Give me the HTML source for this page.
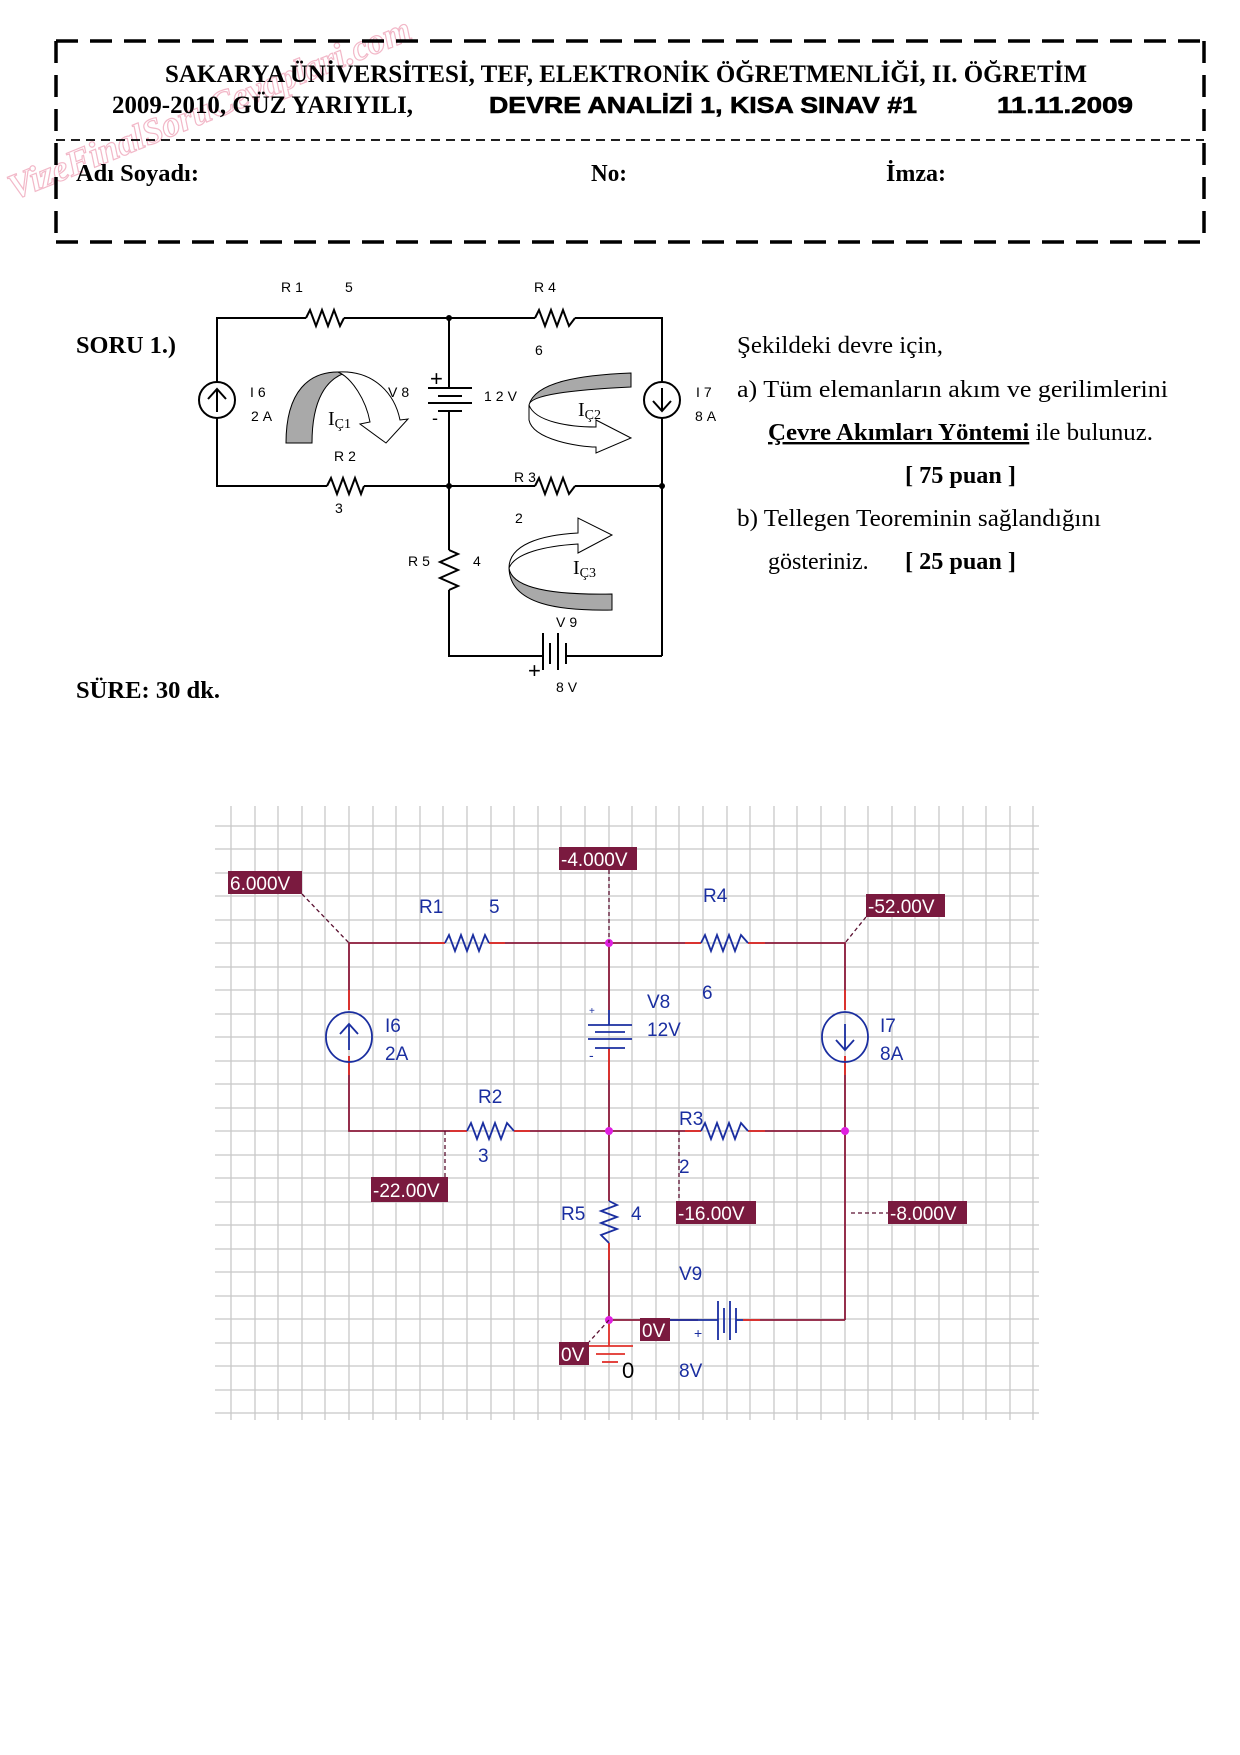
<!DOCTYPE html>
<html><head><meta charset="utf-8"><style>
html,body{margin:0;padding:0;background:#fff;}
svg{display:block;}
</style></head><body>
<svg width="1240" height="1755" viewBox="0 0 1240 1755" xmlns="http://www.w3.org/2000/svg">
<rect width="1240" height="1755" fill="#fff"/>
<!-- watermark -->
<text x="0" y="0" transform="translate(14,200) rotate(-22)" font-family="Liberation Serif, serif" font-size="36" font-weight="bold" font-style="italic" fill="none" stroke="#f2b8c8" stroke-width="1.2">VizeFinalSoruCevaplari.com</text>
<!-- header box -->
<g stroke="#000" stroke-width="3.5" stroke-dasharray="22,12" fill="none">
<line x1="56" y1="41" x2="1204" y2="41"/>
<line x1="56" y1="242" x2="1204" y2="242"/>
<line x1="56" y1="41" x2="56" y2="242"/>
<line x1="1204" y1="41" x2="1204" y2="242"/>
</g>
<line x1="56" y1="140" x2="1204" y2="140" stroke="#000" stroke-width="1.8" stroke-dasharray="9,6"/>
<text x="165" y="82" textLength="922" lengthAdjust="spacingAndGlyphs" font-family="Liberation Serif, serif" font-weight="bold" font-size="25">SAKARYA ÜNİVERSİTESİ, TEF, ELEKTRONİK ÖĞRETMENLİĞİ, II. ÖĞRETİM</text>
<text x="112" y="113" textLength="301" lengthAdjust="spacingAndGlyphs" font-family="Liberation Serif, serif" font-weight="bold" font-size="25">2009-2010, GÜZ YARIYILI,</text>
<text x="489" y="113" textLength="428" lengthAdjust="spacingAndGlyphs" font-family="Liberation Sans, sans-serif" font-weight="700" font-size="23" stroke="#000" stroke-width="0.6">DEVRE ANALİZİ 1,  KISA SINAV #1</text>
<text x="997" y="113" textLength="136" lengthAdjust="spacingAndGlyphs" font-family="Liberation Sans, sans-serif" font-weight="700" font-size="23" stroke="#000" stroke-width="0.6">11.11.2009</text>
<g font-family="Liberation Serif, serif" font-weight="bold" font-size="24">
<text x="76" y="181" textLength="123" lengthAdjust="spacingAndGlyphs">Adı Soyadı:</text>
<text x="591" y="181" textLength="36" lengthAdjust="spacingAndGlyphs">No:</text>
<text x="886" y="181" textLength="60" lengthAdjust="spacingAndGlyphs">İmza:</text>
<text x="76" y="353" textLength="100" lengthAdjust="spacingAndGlyphs">SORU 1.)</text>
<text x="76" y="698" textLength="144" lengthAdjust="spacingAndGlyphs">SÜRE: 30 dk.</text>
</g>
<g font-family="Liberation Serif, serif" font-size="24">
<text x="737" y="353" textLength="206" lengthAdjust="spacingAndGlyphs">Şekildeki devre için,</text>
<text x="737" y="397" textLength="431" lengthAdjust="spacingAndGlyphs">a)  Tüm elemanların  akım ve gerilimlerini</text>
<text x="768" y="440" textLength="385" lengthAdjust="spacingAndGlyphs"><tspan font-weight="bold" text-decoration="underline">Çevre Akımları Yöntemi</tspan> ile bulunuz.</text>
<text x="905" y="483" textLength="111" lengthAdjust="spacingAndGlyphs" font-weight="bold">[ 75 puan ]</text>
<text x="737" y="526" textLength="364" lengthAdjust="spacingAndGlyphs">b) Tellegen Teoreminin sağlandığını</text>
<text x="768" y="569">gösteriniz.</text>
<text x="905" y="569" textLength="111" lengthAdjust="spacingAndGlyphs" font-weight="bold">[ 25 puan ]</text>
</g>

<!-- circuit 1 -->
<g stroke="#000" stroke-width="2" fill="none">
<polyline points="306,318 217,318 217,382"/>
<polyline points="217,418 217,486 327,486"/>
<line x1="344" y1="318" x2="535" y2="318"/>
<polyline points="575,318 662,318 662,382"/>
<line x1="364" y1="486" x2="535" y2="486"/>
<polyline points="575,486 662,486 662,418"/>
<line x1="662" y1="418" x2="662" y2="656"/>
<line x1="449" y1="318" x2="449" y2="388"/>
<line x1="449" y1="411" x2="449" y2="550"/>
<polyline points="449,590 449,656 543,656"/>
<line x1="566" y1="656" x2="662" y2="656"/>
<polyline points="306,318 310,310 316,326 322,310 328,326 334,310 340,326 344,318"/>
<polyline points="535,318 539,310 545,326 551,310 557,326 563,310 569,326 575,318"/>
<polyline points="327,486 331,478 337,494 343,478 349,494 355,478 361,494 364,486"/>
<polyline points="535,486 539,478 545,494 551,478 557,494 563,478 569,494 575,486"/>
<polyline points="449,550 458,554 440,562 458,570 440,578 458,586 449,590"/>
<circle cx="217" cy="400" r="18"/>
<circle cx="662" cy="400" r="18"/>
<line x1="217" y1="412" x2="217" y2="390"/><polyline points="208,399 217,389 226,399"/>
<line x1="662" y1="388" x2="662" y2="410"/><polyline points="653,401 662,411 671,401"/>
<line x1="428" y1="388" x2="472" y2="388"/><line x1="438" y1="396" x2="462" y2="396"/>
<line x1="428" y1="403" x2="472" y2="403"/><line x1="438" y1="411" x2="462" y2="411"/>
<line x1="543" y1="633" x2="543" y2="670"/><line x1="550" y1="643" x2="550" y2="664"/>
<line x1="558" y1="633" x2="558" y2="670"/><line x1="566" y1="643" x2="566" y2="664"/>
</g>
<circle cx="449" cy="318" r="3" fill="#000"/><circle cx="449" cy="486" r="3" fill="#000"/><circle cx="662" cy="486" r="3" fill="#000"/>
<g font-family="Liberation Sans, sans-serif" font-size="22" fill="#000"><text x="430" y="386">+</text><text x="432" y="424" font-size="18">-</text><text x="528" y="678">+</text></g>
<g font-family="Liberation Sans, sans-serif" font-size="14" fill="#000" letter-spacing="4">
<text x="281" y="292">R1</text><text x="345" y="292">5</text><text x="534" y="292">R4</text><text x="535" y="355">6</text>
<text x="250" y="397">I6</text><text x="251" y="421">2A</text><text x="388" y="397">V8</text><text x="484" y="401">12V</text>
<text x="696" y="397">I7</text><text x="695" y="421">8A</text><text x="334" y="461">R2</text><text x="335" y="513">3</text>
<text x="514" y="482">R3</text><text x="515" y="523">2</text><text x="408" y="566">R5</text><text x="473" y="566">4</text>
<text x="556" y="627">V9</text><text x="556" y="692">8V</text>
</g>
<!-- mesh arrows -->
<path d="M286,443 C286,390 310,372 338,372 L348,372 C326,378 312,400 312,443 Z" fill="#a9a9a9" stroke="#000" stroke-width="1"/>
<path d="M338,372 C375,370 395,395 400,420 L408,419 L386,443 L360,424 L370,422 C366,400 352,378 338,372 Z" fill="#fff" stroke="#000" stroke-width="1"/>
<text x="328" y="425" font-family="Liberation Serif, serif" font-size="20">I<tspan font-size="14" dy="3">Ç1</tspan></text>
<path d="M631,373 C580,375 535,382 529,405 C530,395 570,390 631,387 Z" fill="#a9a9a9" stroke="#000" stroke-width="1"/>
<path d="M529,405 L529,420 C533,440 580,447 596,447 L596,453 L631,438 L596,420 L596,427 C570,427 535,422 529,405 Z" fill="#fff" stroke="#000" stroke-width="1"/>
<text x="578" y="416" font-family="Liberation Serif, serif" font-size="20">I<tspan font-size="14" dy="3">Ç2</tspan></text>
<path d="M509,568 C509,545 540,535 578,533 L578,518 L612,535 L578,553 L578,544 C545,546 515,553 509,568 Z" fill="#fff" stroke="#000" stroke-width="1"/>
<path d="M509,568 C512,590 560,595 612,594 L612,610 C560,611 510,605 509,568 Z" fill="#a9a9a9" stroke="#000" stroke-width="1"/>
<text x="573" y="574" font-family="Liberation Serif, serif" font-size="20">I<tspan font-size="14" dy="3">Ç3</tspan></text>

<!-- circuit 2 grid -->
<g stroke="#c8c8c8" stroke-width="1.3">
<line x1="215" y1="826" x2="1039" y2="826"/><line x1="215" y1="849" x2="1039" y2="849"/><line x1="215" y1="873" x2="1039" y2="873"/><line x1="215" y1="896" x2="1039" y2="896"/><line x1="215" y1="920" x2="1039" y2="920"/><line x1="215" y1="943" x2="1039" y2="943"/><line x1="215" y1="967" x2="1039" y2="967"/><line x1="215" y1="990" x2="1039" y2="990"/><line x1="215" y1="1014" x2="1039" y2="1014"/><line x1="215" y1="1037" x2="1039" y2="1037"/><line x1="215" y1="1061" x2="1039" y2="1061"/><line x1="215" y1="1084" x2="1039" y2="1084"/><line x1="215" y1="1108" x2="1039" y2="1108"/><line x1="215" y1="1131" x2="1039" y2="1131"/><line x1="215" y1="1155" x2="1039" y2="1155"/><line x1="215" y1="1178" x2="1039" y2="1178"/><line x1="215" y1="1202" x2="1039" y2="1202"/><line x1="215" y1="1225" x2="1039" y2="1225"/><line x1="215" y1="1249" x2="1039" y2="1249"/><line x1="215" y1="1272" x2="1039" y2="1272"/><line x1="215" y1="1296" x2="1039" y2="1296"/><line x1="215" y1="1319" x2="1039" y2="1319"/><line x1="215" y1="1343" x2="1039" y2="1343"/><line x1="215" y1="1366" x2="1039" y2="1366"/><line x1="215" y1="1390" x2="1039" y2="1390"/><line x1="215" y1="1413" x2="1039" y2="1413"/>
<line x1="231" y1="806" x2="231" y2="1420"/><line x1="255" y1="806" x2="255" y2="1420"/><line x1="278" y1="806" x2="278" y2="1420"/><line x1="302" y1="806" x2="302" y2="1420"/><line x1="325" y1="806" x2="325" y2="1420"/><line x1="349" y1="806" x2="349" y2="1420"/><line x1="373" y1="806" x2="373" y2="1420"/><line x1="396" y1="806" x2="396" y2="1420"/><line x1="420" y1="806" x2="420" y2="1420"/><line x1="443" y1="806" x2="443" y2="1420"/><line x1="467" y1="806" x2="467" y2="1420"/><line x1="491" y1="806" x2="491" y2="1420"/><line x1="514" y1="806" x2="514" y2="1420"/><line x1="538" y1="806" x2="538" y2="1420"/><line x1="561" y1="806" x2="561" y2="1420"/><line x1="585" y1="806" x2="585" y2="1420"/><line x1="609" y1="806" x2="609" y2="1420"/><line x1="632" y1="806" x2="632" y2="1420"/><line x1="656" y1="806" x2="656" y2="1420"/><line x1="679" y1="806" x2="679" y2="1420"/><line x1="703" y1="806" x2="703" y2="1420"/><line x1="727" y1="806" x2="727" y2="1420"/><line x1="750" y1="806" x2="750" y2="1420"/><line x1="774" y1="806" x2="774" y2="1420"/><line x1="797" y1="806" x2="797" y2="1420"/><line x1="821" y1="806" x2="821" y2="1420"/><line x1="845" y1="806" x2="845" y2="1420"/><line x1="868" y1="806" x2="868" y2="1420"/><line x1="892" y1="806" x2="892" y2="1420"/><line x1="915" y1="806" x2="915" y2="1420"/><line x1="939" y1="806" x2="939" y2="1420"/><line x1="963" y1="806" x2="963" y2="1420"/><line x1="986" y1="806" x2="986" y2="1420"/><line x1="1010" y1="806" x2="1010" y2="1420"/><line x1="1033" y1="806" x2="1033" y2="1420"/>
</g>
<!-- circuit 2 wires -->
<g stroke="#8b1a3a" stroke-width="1.8" fill="none">
<polyline points="445,943 349,943 349,1010"/>
<polyline points="349,1056 349,1131 467,1131"/>
<line x1="489" y1="943" x2="701" y2="943"/>
<polyline points="748,943 845,943 845,1010"/>
<line x1="514" y1="1131" x2="701" y2="1131"/>
<polyline points="748,1131 845,1131 845,1056"/>
<line x1="845" y1="1131" x2="845" y2="1320"/>
<line x1="609" y1="943" x2="609" y2="1010"/>
<line x1="609" y1="1048" x2="609" y2="1201"/>
<polyline points="609,1243 609,1320 698,1320"/>
<line x1="743" y1="1320" x2="845" y2="1320"/>
</g>
<g stroke="#e0302a" stroke-width="1.8">
<line x1="489" y1="943" x2="505" y2="943"/><line x1="430" y1="943" x2="445" y2="943"/>
<line x1="748" y1="943" x2="765" y2="943"/><line x1="685" y1="943" x2="701" y2="943"/>
<line x1="514" y1="1131" x2="530" y2="1131"/><line x1="450" y1="1131" x2="467" y2="1131"/>
<line x1="748" y1="1131" x2="765" y2="1131"/><line x1="685" y1="1131" x2="701" y2="1131"/>
<line x1="609" y1="1048" x2="609" y2="1080"/><line x1="609" y1="1243" x2="609" y2="1260"/>
<line x1="743" y1="1320" x2="760" y2="1320"/>
<line x1="349" y1="1056" x2="349" y2="1075"/><line x1="845" y1="1056" x2="845" y2="1075"/>
<line x1="349" y1="990" x2="349" y2="1010"/><line x1="845" y1="990" x2="845" y2="1010"/>
</g>
<g stroke="#1a2ea0" stroke-width="1.8" fill="none">
<polyline points="445,943 449,935 455,951 461,935 467,951 473,935 479,951 485,935 489,943"/>
<polyline points="701,943 705,935 711,951 717,935 723,951 729,935 735,951 741,935 748,943"/>
<polyline points="467,1131 471,1123 477,1139 483,1123 489,1139 495,1123 501,1139 507,1123 514,1131"/>
<polyline points="701,1131 705,1123 711,1139 717,1123 723,1139 729,1123 735,1139 741,1123 748,1131"/>
<polyline points="609,1201 617,1205 601,1211 617,1217 601,1223 617,1229 601,1235 609,1243"/>
<ellipse cx="349" cy="1037" rx="23" ry="25"/>
<ellipse cx="845" cy="1037" rx="23" ry="25"/>
<line x1="349" y1="1050" x2="349" y2="1024"/><polyline points="340,1034 349,1024 358,1034"/>
<line x1="845" y1="1024" x2="845" y2="1050"/><polyline points="836,1040 845,1050 854,1040"/>
<line x1="588" y1="1025" x2="632" y2="1025"/><line x1="595" y1="1032" x2="625" y2="1032"/>
<line x1="588" y1="1039" x2="632" y2="1039"/><line x1="595" y1="1048" x2="625" y2="1048"/>
<line x1="609" y1="1010" x2="609" y2="1025"/>
<line x1="668" y1="1320" x2="718" y2="1320"/>
<line x1="718" y1="1301" x2="718" y2="1340"/><line x1="724" y1="1308" x2="724" y2="1333"/>
<line x1="730" y1="1301" x2="730" y2="1340"/><line x1="736" y1="1320" x2="743" y2="1320"/>
<line x1="736" y1="1308" x2="736" y2="1333"/>
</g>
<g stroke="#e0302a" stroke-width="1.8"><line x1="589" y1="1346" x2="633" y2="1346"/><line x1="596" y1="1354" x2="625" y2="1354"/><line x1="602" y1="1362" x2="618" y2="1362"/><line x1="609" y1="1320" x2="609" y2="1346"/></g>
<g fill="#e020e0"><circle cx="609" cy="943" r="4"/><circle cx="609" cy="1131" r="4"/><circle cx="845" cy="1131" r="4"/><circle cx="609" cy="1320" r="4"/></g>
<!-- dashed probe lines -->
<g stroke="#5a1030" stroke-width="1.3" stroke-dasharray="4,3" fill="none">
<line x1="302" y1="894" x2="349" y2="943"/>
<line x1="609" y1="870" x2="609" y2="943"/>
<line x1="866" y1="917" x2="845" y2="943"/>
<line x1="445" y1="1131" x2="445" y2="1177"/>
<line x1="679" y1="1131" x2="679" y2="1201"/>
<line x1="851" y1="1213" x2="888" y2="1213"/>
<line x1="609" y1="1320" x2="589" y2="1342"/>
</g>
<!-- voltage labels -->
<g fill="#7a1a3f">
<rect x="228" y="871" width="74" height="23"/><rect x="559" y="847" width="78" height="23"/>
<rect x="866" y="894" width="79" height="23"/><rect x="371" y="1177" width="77" height="25"/>
<rect x="676" y="1201" width="80" height="23"/><rect x="888" y="1201" width="79" height="23"/>
<rect x="640" y="1318" width="30" height="23"/><rect x="559" y="1342" width="30" height="23"/>
</g>
<g font-family="Liberation Sans, sans-serif" font-size="19" fill="#fff">
<text x="230" y="890">6.000V</text><text x="561" y="866">-4.000V</text><text x="868" y="913">-52.00V</text>
<text x="373" y="1197">-22.00V</text><text x="678" y="1220">-16.00V</text><text x="890" y="1220">-8.000V</text>
<text x="642" y="1337">0V</text><text x="561" y="1361">0V</text>
</g>
<g font-family="Liberation Sans, sans-serif" font-size="19" fill="#1a2ea0">
<text x="419" y="913">R1</text><text x="489" y="913">5</text><text x="703" y="902">R4</text>
<text x="647" y="1008">V8</text><text x="702" y="999">6</text><text x="647" y="1036">12V</text>
<text x="385" y="1032">I6</text><text x="385" y="1060">2A</text><text x="880" y="1032">I7</text><text x="880" y="1060">8A</text>
<text x="478" y="1103">R2</text><text x="478" y="1162">3</text><text x="679" y="1125">R3</text><text x="679" y="1173">2</text>
<text x="561" y="1220">R5</text><text x="631" y="1220">4</text><text x="679" y="1280">V9</text><text x="679" y="1377">8V</text>
</g>
<g font-family="Liberation Sans, sans-serif" font-size="10" fill="#1a2ea0"><text x="589" y="1014">+</text><text x="589" y="1060" font-size="14">-</text><text x="694" y="1338" font-size="14">+</text></g>
<text x="622" y="1378" font-family="Liberation Sans, sans-serif" font-size="22" fill="#000">0</text>
</svg>
</body></html>
